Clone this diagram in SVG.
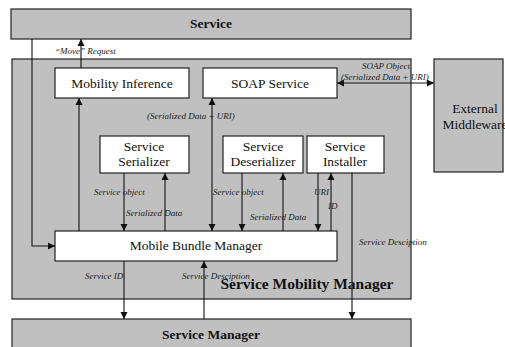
<svg xmlns="http://www.w3.org/2000/svg" width="505" height="347" viewBox="0 0 505 347">
<style>
.g{fill:#c0c0c0;stroke:#222;stroke-width:1.2}
.w{fill:#fff;stroke:#222;stroke-width:1.2}
.t{font-family:"Liberation Serif","Times New Roman",serif;font-size:13.5px;fill:#111;text-anchor:middle}
.b{font-family:"Liberation Serif","Times New Roman",serif;font-weight:bold;fill:#111;text-anchor:middle}
.l{font-family:"Liberation Serif","Times New Roman",serif;font-style:italic;font-size:9px;fill:#222}
.c{stroke:#111;stroke-width:1.1;fill:none}
</style>
<defs>
<marker id="a" markerWidth="8" markerHeight="8" refX="7" refY="4" orient="auto" markerUnits="userSpaceOnUse">
<path d="M0,0.5 L7,4 L0,7.5 z" fill="#111"/>
</marker>
<marker id="s" markerWidth="8" markerHeight="8" refX="1" refY="4" orient="auto" markerUnits="userSpaceOnUse">
<path d="M8,0.5 L1,4 L8,7.5 z" fill="#111"/>
</marker>
</defs>
<g id="service"><rect class="g" x="11" y="9" width="400" height="30"/><text class="b" x="211" y="28" font-size="13.5">Service</text></g>
<g id="smm"><rect class="g" x="12" y="59" width="399" height="240"/><text class="b" x="307" y="289" font-size="15.5">Service Mobility Manager</text></g>
<g id="service-manager"><rect class="g" x="12" y="319" width="399" height="40"/><text class="b" x="211" y="339" font-size="13.5">Service Manager</text></g>
<g id="external"><rect class="g" x="434" y="59" width="69" height="113"/><text class="t" x="475" y="113">External</text><text class="t" x="475" y="129">Middleware</text></g>
<g id="mobility-inference"><rect class="w" x="55" y="68" width="134" height="30"/><text class="t" x="122" y="88">Mobility Inference</text></g>
<g id="soap-service"><rect class="w" x="203" y="68" width="134" height="30"/><text class="t" x="270" y="88">SOAP Service</text></g>
<g id="serializer"><rect class="w" x="100" y="136" width="89" height="37"/><text class="t" x="144" y="151">Service</text><text class="t" x="144" y="166">Serializer</text></g>
<g id="deserializer"><rect class="w" x="223" y="136" width="80" height="37"/><text class="t" x="263" y="151">Service</text><text class="t" x="263" y="166">Deserializer</text></g>
<g id="installer"><rect class="w" x="307" y="136" width="77" height="37"/><text class="t" x="345" y="151">Service</text><text class="t" x="345" y="166">Installer</text></g>
<g id="mbm"><rect class="w" x="55" y="231" width="282" height="30"/><text class="t" x="196" y="250">Mobile Bundle Manager</text></g>
<g id="connectors">
<path class="c" d="M32,39 V246 H55" marker-end="url(#a)"/>
<path class="c" d="M81,68 V39" marker-end="url(#a)"/>
<path class="c" d="M79,231 V98" marker-end="url(#a)"/>
<path class="c" d="M212,98 V231" marker-start="url(#s)" marker-end="url(#a)"/>
<path class="c" d="M124,173 V231" marker-end="url(#a)"/>
<path class="c" d="M165,231 V173" marker-end="url(#a)"/>
<path class="c" d="M242,173 V231" marker-end="url(#a)"/>
<path class="c" d="M283,231 V173" marker-end="url(#a)"/>
<path class="c" d="M318,173 V231" marker-end="url(#a)"/>
<path class="c" d="M331,231 V173" marker-end="url(#a)"/>
<path class="c" d="M352,173 V319" marker-end="url(#a)"/>
<path class="c" d="M124,261 V319" marker-end="url(#a)"/>
<path class="c" d="M204,319 V261" marker-end="url(#a)"/>
<path class="c" d="M337,83 H434" marker-start="url(#s)" marker-end="url(#a)"/>
</g>
<g id="labels">
<text class="l" x="55" y="54">“Move” Request</text>
<text class="l" x="147" y="119">(Serialized Data + URI)</text>
<text class="l" x="362" y="69">SOAP Object</text>
<text class="l" x="341" y="80">(Serialized Data + URI)</text>
<text class="l" x="94" y="195">Service object</text>
<text class="l" x="126" y="216">Serialized Data</text>
<text class="l" x="213" y="195">Service object</text>
<text class="l" x="250" y="220">Serialized Data</text>
<text class="l" x="314" y="195">URI</text>
<text class="l" x="328" y="209">ID</text>
<text class="l" x="359" y="245">Service Desciption</text>
<text class="l" x="85" y="279">Service ID</text>
<text class="l" x="182" y="279">Service Desciption</text>
</g>
</svg>
